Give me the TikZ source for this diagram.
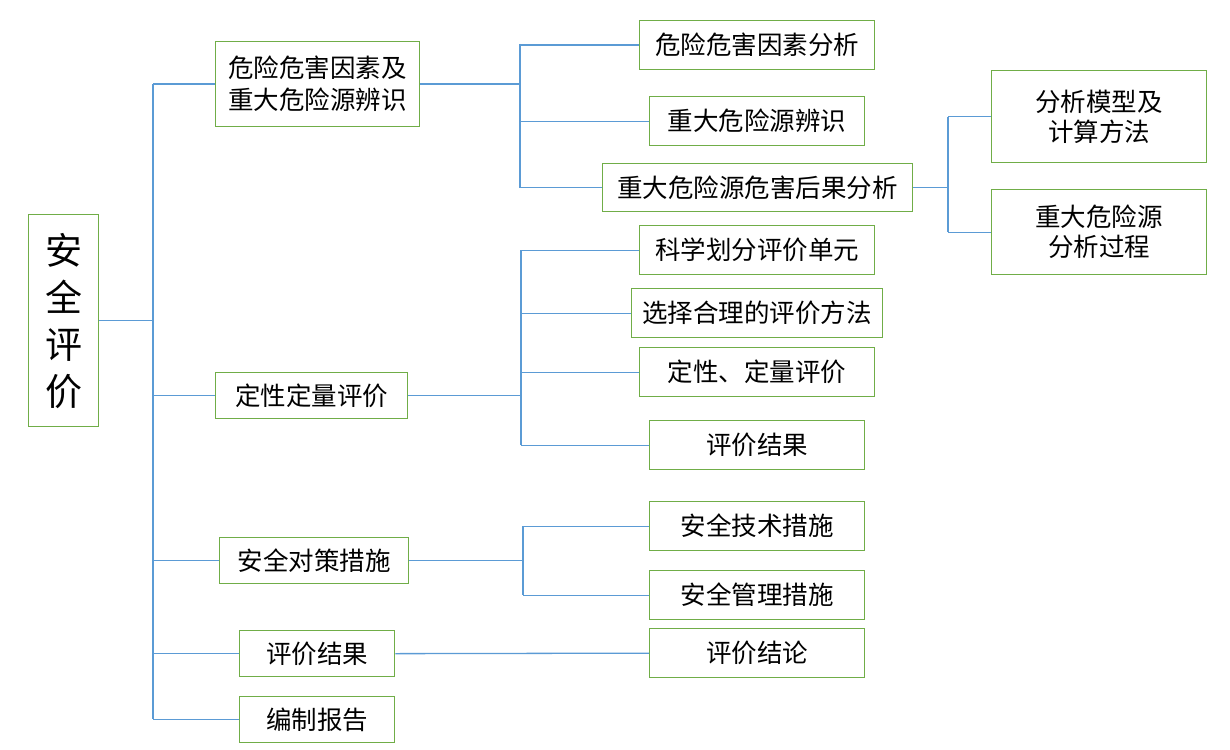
\documentclass[tikz,border=0pt]{standalone}
\usepackage{fontspec}
\setmainfont{Noto Sans CJK SC}
\definecolor{boxgreen}{HTML}{70AD47}
\definecolor{lineblue}{HTML}{5B9BD5}
\begin{document}
\begin{tikzpicture}[x=1pt,y=-1pt,
  box/.style={draw=boxgreen,line width=1.3pt,inner sep=0pt,align=center,
    font=\fontsize{25.5}{32}\selectfont,anchor=north west},
  conn/.style={draw=lineblue,line width=1.3pt}]
\useasboundingbox[fill=white] (0,0) rectangle (1230,749);
% root
\node[box,minimum width=70pt,minimum height=212pt,font=\fontsize{37}{47}\selectfont] (root) at (28,214) {安\\全\\评\\价};
% level 1
\node[box,minimum width=204pt,minimum height=85pt] (A) at (215,41) {危险危害因素及\\重大危险源辨识};
\node[box,minimum width=192pt,minimum height=46pt] (B) at (215,372) {定性定量评价};
\node[box,minimum width=189pt,minimum height=46pt] (C) at (219,537) {安全对策措施};
\node[box,minimum width=155pt,minimum height=46pt] (D) at (239,630) {评价结果};
\node[box,minimum width=155pt,minimum height=46pt] (E) at (239,696) {编制报告};
% level 2, group A
\node[box,minimum width=235pt,minimum height=49pt] (A1) at (639,20) {危险危害因素分析};
\node[box,minimum width=215pt,minimum height=49pt] (A2) at (649,96) {重大危险源辨识};
\node[box,minimum width=310pt,minimum height=48pt] (A3) at (602,163) {重大危险源危害后果分析};
\node[box,minimum width=215pt,minimum height=92pt,font=\fontsize{25.5}{30}\selectfont] (A3a) at (991,70) {分析模型及\\计算方法};
\node[box,minimum width=215pt,minimum height=85pt,font=\fontsize{25.5}{30}\selectfont] (A3b) at (991,189) {重大危险源\\分析过程};
% group B
\node[box,minimum width=235pt,minimum height=49pt] (B1) at (639,225) {科学划分评价单元};
\node[box,minimum width=251pt,minimum height=49pt] (B2) at (631,288) {选择合理的评价方法};
\node[box,minimum width=235pt,minimum height=49pt] (B3) at (639,347) {定性、定量评价};
\node[box,minimum width=215pt,minimum height=49pt] (B4) at (649,420) {评价结果};
% group C
\node[box,minimum width=215pt,minimum height=49pt] (C1) at (649,501) {安全技术措施};
\node[box,minimum width=215pt,minimum height=49pt] (C2) at (649,570) {安全管理措施};
% D
\node[box,minimum width=215pt,minimum height=49pt] (D1) at (649,628) {评价结论};
% trunk
\coordinate (tt) at (153,84);
\coordinate (tb) at (153,719);
\draw[conn] (tt) -- (tb);
\draw[conn] (root.east) -- (root.east -| tt);
\foreach \n in {A,B,C,D,E} \draw[conn] (\n.west -| tt) -- (\n.west);
% group A bus
\coordinate (ja) at (520,44);
\draw[conn] (ja) -- (ja |- A3.west);
\draw[conn] (A.east) -- (A.east -| ja);
\foreach \n in {A1,A2,A3} \draw[conn] (\n.west -| ja) -- (\n.west);
% A3 bus
\coordinate (jx) at (948,117);
\draw[conn] (jx) -- (jx |- A3b.west);
\draw[conn] (A3.east) -- (A3.east -| jx);
\foreach \n in {A3a,A3b} \draw[conn] (\n.west -| jx) -- (\n.west);
% group B bus
\coordinate (jb) at (521,250);
\draw[conn] (jb) -- (jb |- B4.west);
\draw[conn] (B.east) -- (B.east -| jb);
\foreach \n in {B1,B2,B3,B4} \draw[conn] (\n.west -| jb) -- (\n.west);
% group C bus
\coordinate (jc) at (523,526);
\draw[conn] (jc) -- (jc |- C2.west);
\draw[conn] (C.east) -- (C.east -| jc);
\foreach \n in {C1,C2} \draw[conn] (\n.west -| jc) -- (\n.west);
% D
\draw[conn] (D.east) -- (D1.west);
\end{tikzpicture}
\end{document}
